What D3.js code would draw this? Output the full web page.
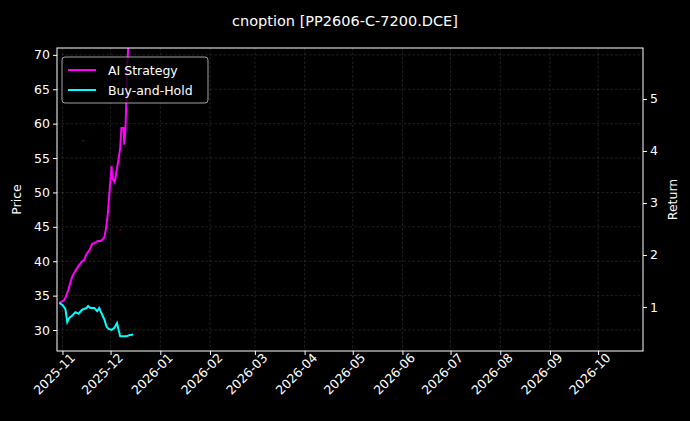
<!DOCTYPE html>
<html>
<head>
<meta charset="utf-8">
<script src="https://cdn.jsdelivr.net/npm/d3@7"></script>
<style>
  body { margin: 0; background: #000; }
  svg { font-family: "DejaVu Sans", sans-serif; }
</style>
</head>
<body>
<svg width="690" height="421"></svg>
<script>
const title = "cnoption [PP2606-C-7200.DCE]";

const aiDates = ["2025-10-30","2025-11-02","2025-11-03","2025-11-04T16","2025-11-06","2025-11-07","2025-11-09","2025-11-11","2025-11-13","2025-11-14T12","2025-11-16","2025-11-18","2025-11-19T10","2025-11-21","2025-11-23","2025-11-25","2025-11-27","2025-11-28","2025-11-29T05","2025-11-30T10","2025-12-01T15","2025-12-02","2025-12-03T12","2025-12-04T16","2025-12-05T22","2025-12-07","2025-12-07T18","2025-12-09","2025-12-09T14","2025-12-10T06","2025-12-10T20","2025-12-11T10","2025-12-12"];
const aiReturn = [1.08,1.13,1.19,1.33,1.48,1.58,1.69,1.79,1.87,1.90,2.02,2.10,2.21,2.23,2.27,2.27,2.33,2.48,2.77,3.25,3.71,3.48,3.40,3.60,3.83,4.06,4.44,4.44,4.12,4.40,4.98,5.65,5.98];

const bhDates = ["2025-10-30","2025-11-01","2025-11-02T20","2025-11-04","2025-11-05T06","2025-11-07","2025-11-09","2025-11-11","2025-11-13","2025-11-14","2025-11-16","2025-11-17","2025-11-18T12","2025-11-19T18","2025-11-20T22","2025-11-22T16","2025-11-23T22","2025-11-25","2025-11-27","2025-11-28T12","2025-11-29T20","2025-12-01T14","2025-12-03T10","2025-12-05","2025-12-06","2025-12-07","2025-12-09","2025-12-11","2025-12-13","2025-12-14","2025-12-15"];
const bhReturn = [1.08,1.04,0.96,0.71,0.79,0.83,0.90,0.87,0.94,0.96,0.98,1.02,0.98,0.98,0.98,0.92,0.98,0.90,0.77,0.62,0.58,0.56,0.60,0.69,0.56,0.44,0.44,0.44,0.46,0.46,0.48];

// faint price markers
const priceDates = ["2025-11-14","2025-12-01","2025-12-07"];
const priceValues = [57.5, 38.5, 44.5];

const xTicks = ["2025-11","2025-12","2026-01","2026-02","2026-03","2026-04","2026-05","2026-06","2026-07","2026-08","2026-09","2026-10"];
const priceTicks = [30,35,40,45,50,55,60,65,70];
const returnTicks = [1,2,3,4,5];

const parse = s => new Date(s.length === 7 ? s + "-01T00:00" : (s.length === 10 ? s + "T00:00" : s + ":00"));

const m = {left: 57, right: 47, top: 48, bottom: 70};
const W = 690, H = 421;
const svg = d3.select("svg");

const x = d3.scaleTime()
  .domain([parse("2025-10-28T14"), parse("2026-10-29")])
  .range([m.left, W - m.right]);
const yP = d3.scaleLinear().domain([26.95, 71.0]).range([H - m.bottom, m.top]);
const yR = d3.scaleLinear().domain([0.154, 5.98]).range([H - m.bottom, m.top]);

svg.append("rect").attr("width", W).attr("height", H).attr("fill", "#000");

svg.append("text").attr("x", 345).attr("y", 26).attr("text-anchor", "middle")
  .attr("fill", "#fff").attr("font-size", 14.5).text(title);

// grid
const grid = svg.append("g").attr("stroke", "#fff").attr("stroke-opacity", 0.22)
  .attr("stroke-dasharray", "2.5,2").attr("stroke-width", 0.6);
xTicks.forEach(t => grid.append("line").attr("x1", x(parse(t))).attr("x2", x(parse(t)))
  .attr("y1", m.top).attr("y2", H - m.bottom));
priceTicks.forEach(t => grid.append("line").attr("x1", m.left).attr("x2", W - m.right)
  .attr("y1", yP(t)).attr("y2", yP(t)));

svg.append("clipPath").attr("id", "c").append("rect")
  .attr("x", m.left).attr("y", m.top).attr("width", W - m.left - m.right).attr("height", H - m.top - m.bottom);
const plot = svg.append("g").attr("clip-path", "url(#c)");

plot.selectAll("circle.p").data(priceDates).join("circle")
  .attr("cx", d => x(parse(d))).attr("cy", (d, i) => yP(priceValues[i]))
  .attr("r", 1).attr("fill", "#5a0a1a");

const line = d3.line().x(d => x(parse(d[0]))).y(d => yR(d[1]));
plot.append("path").datum(aiDates.map((d, i) => [d, aiReturn[i]]))
  .attr("fill", "none").attr("stroke", "#ff00ff").attr("stroke-width", 2).attr("d", line);
plot.append("path").datum(bhDates.map((d, i) => [d, bhReturn[i]]))
  .attr("fill", "none").attr("stroke", "#00ffff").attr("stroke-width", 2).attr("d", line);

// frame
svg.append("rect").attr("x", m.left).attr("y", m.top)
  .attr("width", W - m.left - m.right).attr("height", H - m.top - m.bottom)
  .attr("fill", "none").attr("stroke", "#fff").attr("stroke-width", 1);

const styleAxis = g => {
  g.select(".domain").remove();
  g.selectAll("line").attr("stroke", "#fff");
  g.selectAll("text").attr("fill", "#fff").attr("font-size", 12.5).attr("font-family", "DejaVu Sans");
};

svg.append("g").attr("transform", `translate(0,${H - m.bottom})`)
  .call(d3.axisBottom(x).tickValues(xTicks.map(parse)).tickFormat(d3.timeFormat("%Y-%m")).tickSize(4).tickPadding(3))
  .call(styleAxis)
  .selectAll("text").attr("text-anchor", "end").attr("dx", "0.3em").attr("dy", "0.6em")
  .attr("transform", "rotate(-45)");

svg.append("g").attr("transform", `translate(${m.left},0)`)
  .call(d3.axisLeft(yP).tickValues(priceTicks).tickSize(4).tickPadding(3)).call(styleAxis);
svg.append("g").attr("transform", `translate(${W - m.right},0)`)
  .call(d3.axisRight(yR).tickValues(returnTicks).tickFormat(d3.format("d")).tickSize(4).tickPadding(3)).call(styleAxis);

svg.append("text").attr("transform", `translate(21,${(m.top + H - m.bottom) / 2}) rotate(-90)`)
  .attr("text-anchor", "middle").attr("fill", "#fff").attr("font-size", 12.5).text("Price");
svg.append("text").attr("transform", `translate(677,${(m.top + H - m.bottom) / 2}) rotate(-90)`)
  .attr("text-anchor", "middle").attr("fill", "#fff").attr("font-size", 12.5).text("Return");

// legend
const lg = svg.append("g").attr("transform", "translate(62,57)");
lg.append("rect").attr("width", 146).attr("height", 46).attr("rx", 3)
  .attr("fill", "#000").attr("fill-opacity", 0.8).attr("stroke", "#ccc").attr("stroke-width", 0.8);
[["AI Strategy", "#ff00ff"], ["Buy-and-Hold", "#00ffff"]].forEach(([name, c], i) => {
  const yy = 13 + i * 20;
  lg.append("line").attr("x1", 6).attr("x2", 34).attr("y1", yy).attr("y2", yy)
    .attr("stroke", c).attr("stroke-width", 2);
  lg.append("text").attr("x", 46).attr("y", yy + 4.5).attr("fill", "#fff")
    .attr("font-size", 12.5).text(name);
});
</script>
</body>
</html>
